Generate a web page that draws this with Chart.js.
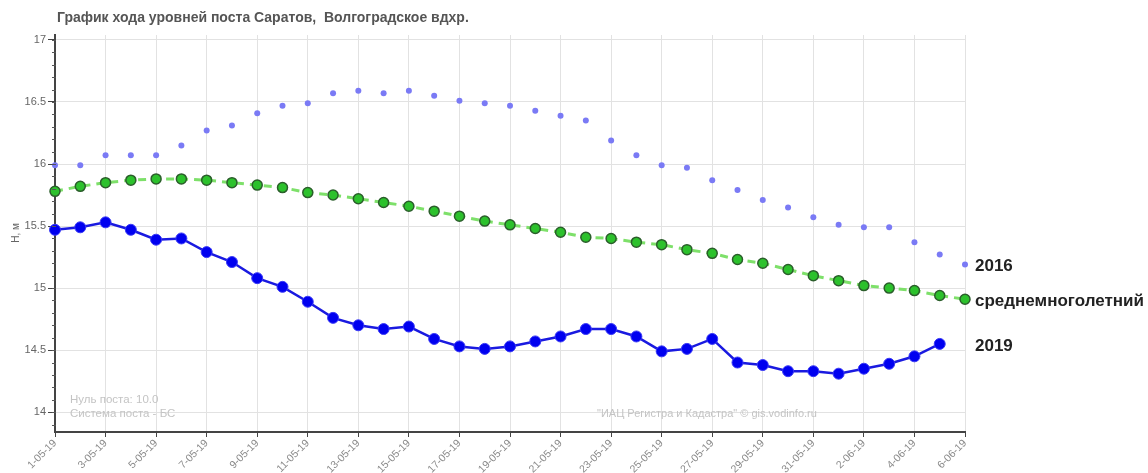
<!DOCTYPE html>
<html>
<head>
<meta charset="utf-8">
<script src="https://cdn.jsdelivr.net/npm/chart.js@4.4.0/dist/chart.umd.min.js"></script>
<style>
    html, body { margin: 0; padding: 0; background: #fff; }
    #wrap { width: 1148px; height: 473px; }
</style>
</head>
<body>
<div id="wrap"><canvas id="levelChart" width="1148" height="473"></canvas></div>
<script>
// dates 1-05-19 .. 6-06-19
const dates = [
    '1-05-19', '2-05-19', '3-05-19', '4-05-19', '5-05-19', '6-05-19', '7-05-19', '8-05-19', '9-05-19', '10-05-19',
    '11-05-19', '12-05-19', '13-05-19', '14-05-19', '15-05-19', '16-05-19', '17-05-19', '18-05-19', '19-05-19', '20-05-19',
    '21-05-19', '22-05-19', '23-05-19', '24-05-19', '25-05-19', '26-05-19', '27-05-19', '28-05-19', '29-05-19', '30-05-19',
    '31-05-19', '1-06-19', '2-06-19', '3-06-19', '4-06-19', '5-06-19', '6-06-19'
];

const level2016 = [
    15.99, 15.99, 16.07, 16.07, 16.07, 16.15, 16.27, 16.31, 16.41, 16.47,
    16.49, 16.57, 16.59, 16.57, 16.59, 16.55, 16.51, 16.49, 16.47, 16.43,
    16.39, 16.35, 16.19, 16.07, 15.99, 15.97, 15.87, 15.79, 15.71, 15.65,
    15.57, 15.51, 15.49, 15.49, 15.37, 15.27, 15.19
];

const levelAvg = [
    15.78, 15.82, 15.85, 15.87, 15.88, 15.88, 15.87, 15.85, 15.83, 15.81,
    15.77, 15.75, 15.72, 15.69, 15.66, 15.62, 15.58, 15.54, 15.51, 15.48,
    15.45, 15.41, 15.40, 15.37, 15.35, 15.31, 15.28, 15.23, 15.20, 15.15,
    15.10, 15.06, 15.02, 15.00, 14.98, 14.94, 14.91
];

const level2019 = [
    15.47, 15.49, 15.53, 15.47, 15.39, 15.40, 15.29, 15.21, 15.08, 15.01,
    14.89, 14.76, 14.70, 14.67, 14.69, 14.59, 14.53, 14.51, 14.53, 14.57,
    14.61, 14.67, 14.67, 14.61, 14.49, 14.51, 14.59, 14.40, 14.38, 14.33,
    14.33, 14.31, 14.35, 14.39, 14.45, 14.55, null
];

const seriesNames = ['2016', 'среднемноголетний', '2019'];
const yTickLabels = [14, 14.5, 15, 15.5, 16, 16.5, 17];
const chartTitle = 'График хода уровней поста Саратов,  Волгоградское вдхр.';
const noteLines = ['Нуль поста: 10.0', 'Система поста - БС'];
const creditText = '"ИАЦ Регистра и Кадастра" © gis.vodinfo.ru';

// title, notes, minor ticks and series names at the right edge
const extrasPlugin = {
    id: 'extras',
    afterDraw(chart) {
        const ctx = chart.ctx;
        const area = chart.chartArea;
        const y = chart.scales.y;
        ctx.save();

        // minor ticks on the y axis
        ctx.strokeStyle = '#555';
        ctx.lineWidth = 1;
        for (let v = 13.9; v <= 17.01; v += 0.1) {
            const py = Math.round(y.getPixelForValue(v)) + 0.5;
            ctx.beginPath();
            ctx.moveTo(area.left - 3, py);
            ctx.lineTo(area.left + 1, py);
            ctx.stroke();
        }

        ctx.fillStyle = '#555';
        ctx.font = 'bold 14px "Liberation Sans", Arial, sans-serif';
        ctx.textAlign = 'left';
        ctx.textBaseline = 'middle';
        ctx.fillText(chartTitle, 57, 18);

        ctx.fillStyle = '#c4c4c4';
        ctx.font = '11.5px "Liberation Sans", Arial, sans-serif';
        ctx.fillText(noteLines[0], area.left + 15, 400);
        ctx.fillText(noteLines[1], area.left + 15, 414);
        ctx.font = '11px "Liberation Sans", Arial, sans-serif';
        ctx.fillText(creditText, 597, 414);

        ctx.fillStyle = '#222';
        ctx.font = 'bold 17px "Liberation Sans", Arial, sans-serif';
        chart.data.datasets.forEach((ds, i) => {
            const meta = chart.getDatasetMeta(i);
            let last = null;
            meta.data.forEach((p, j) => { if (ds.data[j] !== null) last = p; });
            if (last) ctx.fillText(seriesNames[i], area.right + 10, last.y + 2);
        });

        // y axis title
        ctx.translate(16, 233);
        ctx.rotate(-Math.PI / 2);
        ctx.fillStyle = '#666';
        ctx.font = '10px "Liberation Sans", Arial, sans-serif';
        ctx.textAlign = 'center';
        ctx.fillText('H, м', 0, 0);
        ctx.restore();
    }
};

new Chart(document.getElementById('levelChart'), {
    type: 'line',
    data: {
        labels: dates,
        datasets: [
            {
                label: seriesNames[0],
                data: level2016,
                showLine: false,
                pointRadius: 3,
                pointBackgroundColor: '#7a7af5',
                pointBorderColor: '#7a7af5',
                pointBorderWidth: 0
            },
            {
                label: seriesNames[1],
                data: levelAvg,
                borderColor: '#7ee06a',
                borderWidth: 3,
                borderDash: [8, 6],
                pointRadius: 5,
                pointBackgroundColor: '#2cc12c',
                pointBorderColor: '#2b5e2b',
                pointBorderWidth: 1.5
            },
            {
                label: seriesNames[2],
                data: level2019,
                borderColor: '#1a1ae0',
                borderWidth: 2.5,
                pointRadius: 5.5,
                pointBackgroundColor: '#0000f0',
                pointBorderColor: '#3a3af5',
                pointBorderWidth: 1,
                spanGaps: false
            }
        ]
    },
    options: {
        responsive: false,
        animation: false,
        layout: { padding: { top: 35, right: 183, left: 0, bottom: 0 } },
        plugins: {
            legend: { display: false },
            tooltip: { enabled: false }
        },
        scales: {
            x: {
                type: 'category',
                offset: false,
                afterFit: (scale) => { scale.height = 41; },
                border: { color: '#444', width: 2 },
                grid: {
                    color: (c) => (c.index % 2 === 0 ? '#e2e2e2' : 'transparent'),
                    tickColor: (c) => (c.index % 2 === 0 ? '#444' : 'transparent'),
                    tickLength: 5
                },
                ticks: {
                    autoSkip: false,
                    maxRotation: 45,
                    minRotation: 45,
                    padding: 0,
                    color: '#8a8a8a',
                    font: { size: 10.5, family: '"Liberation Sans", Arial, sans-serif' },
                    callback: function (value, index) {
                        return index % 2 === 0 ? dates[index] : '';
                    }
                }
            },
            y: {
                min: 13.84,
                max: 17.04,
                afterFit: (scale) => { scale.width = 55; },
                afterBuildTicks: (scale) => {
                    scale.ticks = yTickLabels.map(v => ({ value: v }));
                },
                border: { color: '#444', width: 2 },
                grid: {
                    color: '#e2e2e2',
                    tickColor: '#444',
                    tickLength: 7
                },
                ticks: {
                    color: '#666',
                    padding: 2,
                    font: { size: 11, family: '"Liberation Sans", Arial, sans-serif' },
                    callback: (v) => String(v)
                }
            }
        }
    },
    plugins: [extrasPlugin]
});
</script>
</body>
</html>
